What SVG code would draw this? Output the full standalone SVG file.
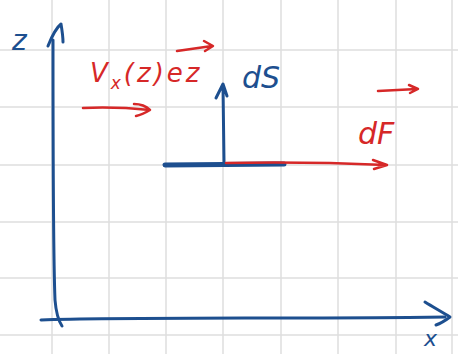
<svg xmlns="http://www.w3.org/2000/svg" width="458" height="354" viewBox="0 0 458 354">
<style>
.grid{stroke:#dedede;stroke-width:1.5;fill:none}
.b{stroke:#1d4f8f;fill:none;stroke-linecap:round;stroke-linejoin:round}
.r{stroke:#d62828;fill:none;stroke-linecap:round;stroke-linejoin:round}
.tb{fill:#1d4f8f;font-family:"DejaVu Sans",sans-serif;font-style:italic}
.tr{fill:#d62828;font-family:"DejaVu Sans",sans-serif;font-style:italic}
</style>
<rect width="458" height="354" fill="#fff"/>
<g id="grid" class="grid">
<path d="M52 0V354M109 0V354M166 0V354M223 0V354M281 0V354M338 0V354M396 0V354M452 0V354"/>
<path d="M0 50H458M0 107H458M0 165H458M0 222H458M0 278H458M0 335H458"/>
</g>
<g id="axis-z">
<path class="b" stroke-width="3" d="M53 40 C53 120 53 250 55 300 C56 312 58 320 62 326"/>
<path class="b" stroke-width="3" d="M48 46 C52 36 56 28 61 24 C62 30 63 36 63 42"/>
<text class="tb" x="12" y="50" font-size="28">z</text>
</g>
<g id="axis-x">
<path class="b" stroke-width="3" d="M41 320 C120 317 300 319 445 317"/>
<path class="b" stroke-width="3" d="M425 302 C433 307 442 312 450 317 C446 320 442 323 436 325"/>
<text class="tb" x="424" y="346" font-size="22">x</text>
</g>
<g id="velocity">
<text class="tr" x="90" y="82" font-size="26" letter-spacing="3">V<tspan font-size="17" dy="7">x</tspan><tspan dy="-7">(z)ez</tspan></text>
<path class="r" stroke-width="2.5" d="M177 51 L212 46 M204 41 L213 46 L205 51"/>
<path class="r" stroke-width="2.5" d="M83 108 C105 107 130 108 150 110 C146 106 140 104 134 104 M150 110 C145 113 141 115 136 116"/>
</g>
<g id="surface">
<path class="b" stroke-width="5" d="M165 165 L284 164"/>
</g>
<g id="connectors">
<path class="b" stroke-width="3" d="M224 162 L223 86 M216 98 L223 84 L227 96"/>
<path class="r" stroke-width="2.5" d="M226 163 C280 162 340 163 386 165 M373 160 L387 165 L374 169"/>
<path class="r" stroke-width="2.5" d="M378 91 L417 89 M409 85 L418 89 L410 93"/>
</g>
<g id="labels">
<text class="tb" x="242" y="88" font-size="30">dS</text>
<text class="tr" x="358" y="144" font-size="30">dF</text>
</g>
</svg>
